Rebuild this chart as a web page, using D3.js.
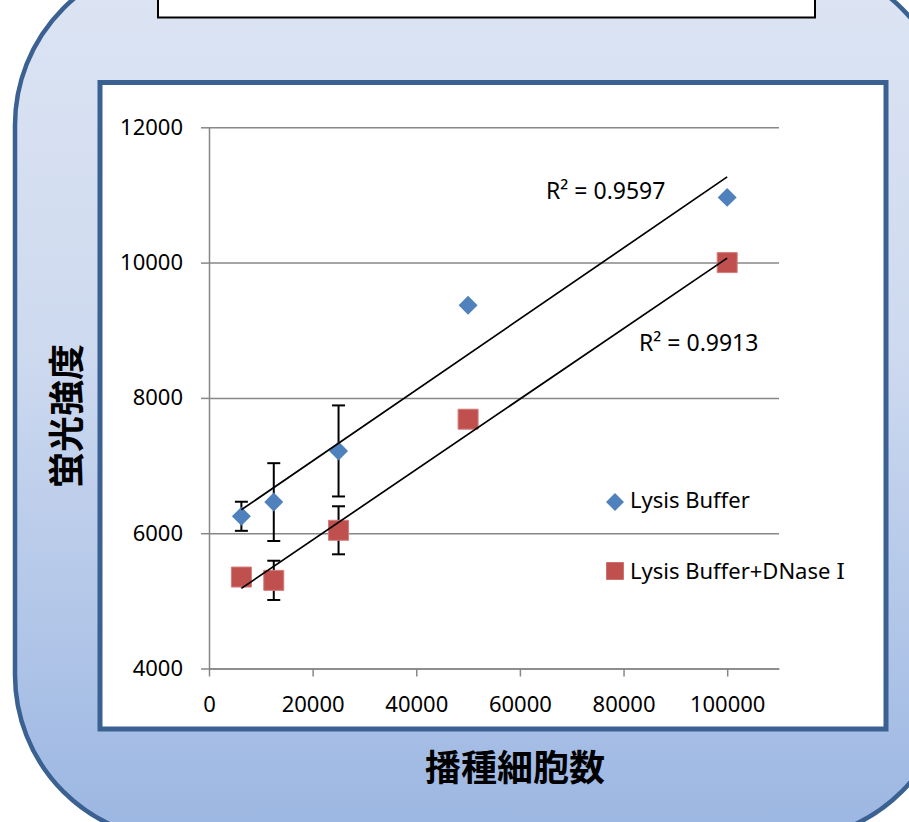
<!DOCTYPE html>
<html><head><meta charset="utf-8">
<script src="https://cdn.jsdelivr.net/npm/d3@7"></script>
<style>body{margin:0;background:#fff;} svg{display:block}</style>
</head><body><svg id="c" width="909" height="822"></svg>
<script>
// ---- data ----
const cellCounts = [6250, 12500, 25000, 50000, 100000];
const lysisBuffer = [6250, 6460, 7216, 9371, 10964];
const lysisBufferErr = [215, 575, 673, 0, 0];
const lysisDNase = [5352, 5303, 6043, 7685, 10000];
const lysisDNaseErr = [0, 290, 355, 0, 0];
const seriesNames = ["Lysis Buffer", "Lysis Buffer+DNase "];
const romanOne = "Ⅰ";
const rSquared = ["R² = 0.9597", "R² = 0.9913"];
const xTicks = [0, 20000, 40000, 60000, 80000, 100000];
const yTicks = [4000, 6000, 8000, 10000, 12000];
const xTitle = "播種細胞数";
const yTitle = "蛍光強度";

const blue = "#4F81BD", red = "#C0504D", frame = "#3A6191";
const svg = d3.select("#c");

// background panel
const defs = svg.append("defs");
const g = defs.append("linearGradient").attr("id","bg").attr("x1",0).attr("y1",0).attr("x2",0).attr("y2",1);
g.append("stop").attr("offset","0%").attr("stop-color","#DDE5F3");
g.append("stop").attr("offset","45%").attr("stop-color","#CDD9EF");
g.append("stop").attr("offset","100%").attr("stop-color","#9BB6E2");
svg.append("rect").attr("x",15).attr("y",-40).attr("width",935).attr("height",880)
  .attr("rx",165).attr("ry",165).attr("fill","url(#bg)").attr("stroke",frame).attr("stroke-width",4.5);

// title box (cut off at top)
svg.append("rect").attr("x",158).attr("y",-20).attr("width",657).attr("height",37.5)
  .attr("fill","#fff").attr("stroke","#000").attr("stroke-width",2);

// chart box
svg.append("rect").attr("x",100).attr("y",82.5).attr("width",786).attr("height",646.5)
  .attr("fill","#fff").attr("stroke",frame).attr("stroke-width",5);

// scales
const x = d3.scaleLinear().domain([0, 110000]).range([209, 779]);
const y = d3.scaleLinear().domain([4000, 12000]).range([668.5, 127.3]);

const font = "'Noto Sans', 'Open Sans', sans-serif";
const gridColor = "#878787";

// gridlines
svg.append("g").attr("transform",`translate(${x(0)},0)`)
  .call(d3.axisLeft(y).tickValues(yTicks).tickSize(-(x(110000)-x(0))).tickFormat("").tickSizeOuter(0))
  .call(a => a.select(".domain").remove())
  .call(a => a.selectAll("line").attr("stroke",gridColor).attr("stroke-width",1.5));

// y axis
svg.append("g").attr("transform",`translate(${x(0)},0)`)
  .call(d3.axisLeft(y).tickValues(yTicks).tickSize(8).tickPadding(18).tickSizeOuter(0).tickFormat(d3.format("d")))
  .call(a => a.select(".domain").attr("stroke",gridColor).attr("stroke-width",1.5))
  .call(a => a.selectAll("line").attr("stroke",gridColor).attr("stroke-width",1.5))
  .call(a => a.selectAll("text").attr("font-family",font).attr("font-size",22).attr("fill","#000"));

// x axis
svg.append("g").attr("transform",`translate(0,${y(4000)})`)
  .call(d3.axisBottom(x).tickValues(xTicks).tickSize(8).tickPadding(20).tickSizeOuter(0).tickFormat(d3.format("d")))
  .call(a => a.select(".domain").attr("stroke",gridColor).attr("stroke-width",1.5))
  .call(a => a.selectAll("line").attr("stroke",gridColor).attr("stroke-width",1.5))
  .call(a => a.selectAll("text").attr("font-family",font).attr("font-size",22).attr("fill","#000"));

// series
const series = [
  {vals: lysisBuffer, err: lysisBufferErr, color: blue, shape: "diamond"},
  {vals: lysisDNase, err: lysisDNaseErr, color: red, shape: "square"}
];

// error bars
series.forEach(s => {
  const eg = svg.append("g").attr("stroke","#000").attr("stroke-width",2);
  cellCounts.forEach((c,i) => {
    if (!s.err[i]) return;
    const cx = x(c), y1 = y(s.vals[i]+s.err[i]), y2 = y(s.vals[i]-s.err[i]);
    eg.append("line").attr("x1",cx).attr("x2",cx).attr("y1",y1).attr("y2",y2);
    eg.append("line").attr("x1",cx-6.5).attr("x2",cx+6.5).attr("y1",y1).attr("y2",y1);
    eg.append("line").attr("x1",cx-6.5).attr("x2",cx+6.5).attr("y1",y2).attr("y2",y2);
  });
});

// markers
const diamondPath = d3.symbol(d3.symbolSquare, 180)();
const squarePath = d3.symbol(d3.symbolSquare, 400)();
series.forEach(s => {
  svg.append("g").selectAll("path").data(cellCounts).join("path")
    .attr("d", s.shape === "diamond" ? diamondPath : squarePath)
    .attr("transform",(c,i) => `translate(${x(c)},${y(s.vals[i])})` + (s.shape==="diamond" ? " rotate(45)" : ""))
    .attr("fill", s.color)
    .attr("stroke", s.shape==="square" ? "#D27D7B" : "none").attr("stroke-width",1);
});

// linear trendlines (least squares)
function fit(xs, ys) {
  const mx = d3.mean(xs), my = d3.mean(ys);
  let sxy = 0, sxx = 0;
  xs.forEach((v,i) => { sxy += (v-mx)*(ys[i]-my); sxx += (v-mx)*(v-mx); });
  const b = sxy/sxx; return {b, a: my - b*mx};
}
series.forEach(s => {
  const f = fit(cellCounts, s.vals);
  const x0 = d3.min(cellCounts), x1 = d3.max(cellCounts);
  svg.append("line").attr("x1",x(x0)).attr("y1",y(f.a+f.b*x0))
    .attr("x2",x(x1)).attr("y2",y(f.a+f.b*x1))
    .attr("stroke","#000").attr("stroke-width",1.7);
});

// R² labels
svg.append("text").attr("x",546).attr("y",199).text(rSquared[0])
  .attr("font-family",font).attr("font-size",23);
svg.append("text").attr("x",639).attr("y",351).text(rSquared[1])
  .attr("font-family",font).attr("font-size",23);

// legend
const lg = svg.append("g");
lg.append("path").attr("d", d3.symbol(d3.symbolSquare, 162)()).attr("transform","translate(615,502) rotate(45)").attr("fill",blue);
lg.append("text").attr("x",630).attr("y",508).text(seriesNames[0]).attr("font-family",font).attr("font-size",22);
lg.append("path").attr("d", d3.symbol(d3.symbolSquare, 310)()).attr("transform","translate(615,571)").attr("fill",red);
const t2 = lg.append("text").attr("x",630).attr("y",579).attr("font-family",font).attr("font-size",22);
t2.append("tspan").text(seriesNames[1]);
t2.append("tspan").text(romanOne).attr("font-family","'DejaVu Serif', 'Noto Sans CJK JP', serif");

// axis titles
svg.append("text").attr("x",515).attr("y",781).attr("text-anchor","middle").text(xTitle)
  .attr("font-family","'Noto Sans CJK JP', sans-serif").attr("font-weight","bold").attr("font-size",36);
svg.append("text").attr("transform","translate(80,416) rotate(-90)").attr("text-anchor","middle").text(yTitle)
  .attr("font-family","'Noto Sans CJK JP', sans-serif").attr("font-weight","bold").attr("font-size",36);
</script></body></html>
